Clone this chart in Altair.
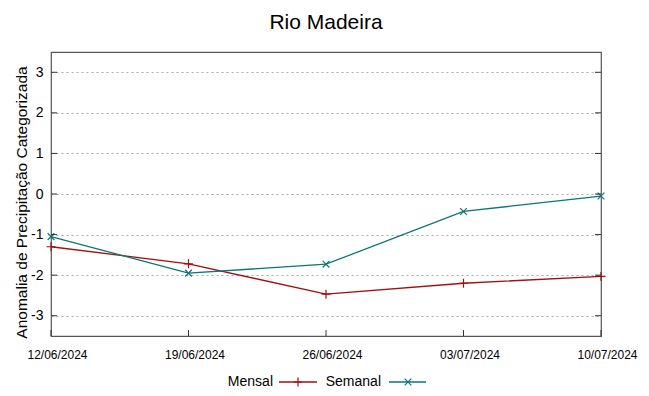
import altair as alt
import pandas as pd

dates = ["12/06/2024", "19/06/2024", "26/06/2024", "03/07/2024", "10/07/2024"]
mensal = [-1.30, -1.72, -2.47, -2.20, -2.03]
semanal = [-1.05, -1.95, -1.73, -0.43, -0.05]
yticks = [-3, -2, -1, 0, 1, 2, 3]

RED = "#a01010"
TEAL = "#0b7676"
W, H = 550, 284

rows = []
for d, m, s in zip(dates, mensal, semanal):
    rows.append({"date": d, "series": "Mensal", "value": m})
    rows.append({"date": d, "series": "Semanal", "value": s})
df = pd.DataFrame(rows)
tick_df = pd.DataFrame({"value": yticks})
date_df = pd.DataFrame({"date": dates})
one = pd.DataFrame({"a": [1]})

LABEL_FONT = "Liberation Sans"
PLUS = "M-1,0L1,0M0,-1L0,1"
CROSS = "M-1,-1L1,1M-1,1L1,-1"

xscale = alt.Scale(type="point", domain=dates, padding=0)
yscale = alt.Scale(domain=[-3.5, 3.5], nice=False, zero=False)

xaxis = alt.Axis(title=None, labelAngle=0, labelFont=LABEL_FONT,
                 labelFontSize=12, labelColor="#000", ticks=False,
                 domain=False, grid=False, labelPadding=13, labelOffset=6,
                 orient="bottom")
yaxis = alt.Axis(title="Anomalia de Precipitação Categorizada",
                 titleFont="Liberation Sans", titleFontSize=15.5,
                 titleFontWeight="normal", titleColor="#000",
                 titleX=-25, titleY=H / 2 + 8, titleBaseline="alphabetic",
                 titleAngle=270, titleAlign="center",
                 orient="left",
                 values=yticks, labelExpr="datum.value + ''",
                 labelFont="Liberation Sans",
                 labelFontSize=14, labelColor="#000", ticks=False,
                 domain=False, grid=True, gridColor="#aaaaaa",
                 gridDash=[2, 3], gridWidth=1, labelPadding=8)

def X():
    return alt.X("date:N", scale=xscale, sort=dates, axis=xaxis)

def Y():
    return alt.Y("value:Q", scale=yscale, axis=yaxis)

lines = alt.Chart(df).mark_line(strokeWidth=1.3).encode(
    x=X(), y=Y(),
    color=alt.Color("series:N", scale=alt.Scale(domain=["Mensal", "Semanal"], range=[RED, TEAL]), legend=None),
)
pts_m = alt.Chart(df[df.series == "Mensal"]).mark_point(shape=PLUS, size=80, filled=False, color=RED, strokeWidth=1.2, opacity=1).encode(
    x=X(), y=Y())
pts_s = alt.Chart(df[df.series == "Semanal"]).mark_point(shape=CROSS, size=45, filled=False, color=TEAL, strokeWidth=1.2, opacity=1).encode(
    x=X(), y=Y())

# inward ticks
lt = alt.Chart(tick_df).mark_rule(color="#333", strokeWidth=1).encode(
    y=Y(), x=alt.value(0), x2=alt.value(6))
rt = alt.Chart(tick_df).mark_rule(color="#333", strokeWidth=1).encode(
    y=Y(), x=alt.value(W - 6), x2=alt.value(W))
bt = alt.Chart(date_df).mark_rule(color="#333", strokeWidth=1).encode(
    x=X(), y=alt.value(H - 6), y2=alt.value(H))

# manual legend below the plot
LY = H + 46
def leg_text(label, px):
    return alt.Chart(one).mark_text(align="right", baseline="middle", font="Liberation Sans",
                                    fontSize=14, color="#000").encode(
        x=alt.value(px), y=alt.value(LY), text=alt.value(label))
leg_t1 = leg_text("Mensal", 222)
leg_t2 = leg_text("Semanal", 330)
leg_l1 = alt.Chart(one).mark_rule(color=RED, strokeWidth=1.3).encode(
    x=alt.value(228), x2=alt.value(266), y=alt.value(LY))
leg_l2 = alt.Chart(one).mark_rule(color=TEAL, strokeWidth=1.3).encode(
    x=alt.value(338), x2=alt.value(375), y=alt.value(LY))
leg_p1 = alt.Chart(one).mark_point(shape=PLUS, size=80, filled=False, color=RED, strokeWidth=1.2, opacity=1).encode(
    x=alt.value(247), y=alt.value(LY))
leg_p2 = alt.Chart(one).mark_point(shape=CROSS, size=45, filled=False, color=TEAL, strokeWidth=1.2, opacity=1).encode(
    x=alt.value(357), y=alt.value(LY))

chart = alt.layer(lines, pts_m, pts_s, lt, rt, bt, leg_t1, leg_t2, leg_l1, leg_l2, leg_p1, leg_p2).properties(
    width=W, height=H,
    title=alt.TitleParams("Rio Madeira", font="Liberation Sans", fontSize=21,
                          fontWeight="normal", color="#000", anchor="middle", offset=19),
    autosize=alt.AutoSizeParams(type="none"),
    padding={"left": 43, "top": 44, "right": 40, "bottom": 60},
).configure(background="white").configure_view(stroke="#555", strokeWidth=1.2)

chart.save("out.html", embed_options={"renderer": "svg", "actions": False})
